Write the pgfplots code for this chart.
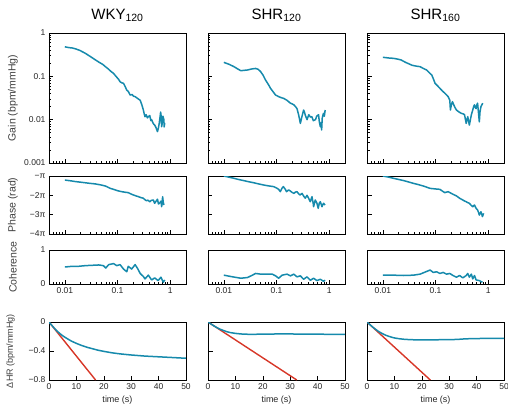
\documentclass[border=0pt]{standalone}
\usepackage{fontspec}
\setmainfont{Liberation Sans}
\usepackage{pgfplots}
\pgfplotsset{compat=1.18}
\definecolor{tl}{RGB}{22,138,172}
\definecolor{rl}{RGB}{215,55,40}
\pgfplotsset{
 panel/.style={scale only axis, width=137pt, axis line style={line width=0.6pt},
   tick align=inside, xtick pos=left, ytick pos=left,
   major tick length=4.5pt, minor tick length=2.5pt,
   every tick/.style={black,line width=0.5pt},
   ticklabel style={font=\fontsize{8.5}{9}\selectfont, text=black!85},
   /pgf/number format/assume math mode=true, anchor=north west,
   ylabel style={font=\fontsize{10.5}{11}\selectfont, text=black!75, at={(axis description cs:-0.263,0.5)}, anchor=center},
   title style={font=\fontsize{15}{17}\selectfont, at={(axis description cs:0.5,1)}, anchor=base, yshift=8pt}},
 freq/.style={panel, xmin=0.005, xmax=2, log ticks with fixed point},
 gainp/.style={freq, height=130pt, ymin=0.001, ymax=1, xticklabels={}},
 phasep/.style={freq, height=58pt, ymin=-4, ymax=-1, ytick={-4,-3,-2,-1}, xticklabels={}},
 cohp/.style={freq, height=34pt, ymin=0, ymax=1, ytick={0,1}},
 dhrp/.style={panel, height=58pt, xmin=0, xmax=50, xtick={0,10,20,30,40,50}, ymin=-0.8, ymax=0, ytick={-0.8,-0.4,0},
   xlabel={time (s)}, xlabel style={font=\fontsize{9}{10}\selectfont, text=black!85}},
 curve/.style={tl, line width=1.5pt, line join=round},
 refl/.style={rl, line width=1.4pt},
}
\begin{document}
\begin{tikzpicture}
\useasboundingbox (0,0) rectangle (508pt,408pt);
% ---------------- Gain row ----------------
\begin{loglogaxis}[gainp, at={(49pt,375pt)}, title={WKY\textsubscript{120}}, ylabel={Gain (bpm/mmHg)}]
\addplot[curve] coordinates {(0.010,0.48)(0.012,0.46)(0.014,0.45)(0.016,0.43)(0.019,0.40)(0.0245,0.34)(0.030,0.29)(0.038,0.24)(0.045,0.21)(0.052,0.19)(0.059,0.167)(0.066,0.15)(0.075,0.13)(0.084,0.117)(0.095,0.098)(0.105,0.085)(0.112,0.075)(0.12,0.071)(0.13,0.069)(0.14,0.058)(0.15,0.048)(0.16,0.045)(0.174,0.037)(0.19,0.038)(0.2,0.035)(0.216,0.034)(0.24,0.031)(0.27,0.028)(0.29,0.022)(0.31,0.0167)(0.32,0.014)(0.333,0.0117)(0.35,0.013)(0.37,0.011)(0.385,0.0117)(0.41,0.0125)(0.43,0.0095)(0.445,0.010)(0.47,0.0085)(0.49,0.0078)(0.51,0.0075)(0.54,0.0065)(0.575,0.0053)(0.6,0.0065)(0.62,0.0082)(0.64,0.011)(0.66,0.015)(0.67,0.013)(0.69,0.0069)(0.71,0.0085)(0.73,0.012)(0.76,0.010)(0.77,0.0068)(0.79,0.0085)};
\end{loglogaxis}
\begin{loglogaxis}[gainp, at={(208pt,375pt)}, title={SHR\textsubscript{120}}, yticklabels={}]
\addplot[curve] coordinates {(0.010,0.21)(0.0125,0.19)(0.0156,0.167)(0.018,0.15)(0.021,0.135)(0.025,0.138)(0.028,0.14)(0.034,0.148)(0.040,0.152)(0.045,0.145)(0.050,0.128)(0.056,0.105)(0.062,0.082)(0.070,0.065)(0.077,0.053)(0.085,0.045)(0.096,0.037)(0.11,0.034)(0.125,0.032)(0.137,0.031)(0.158,0.028)(0.17,0.026)(0.184,0.024)(0.2,0.023)(0.213,0.022)(0.23,0.02)(0.245,0.018)(0.263,0.013)(0.275,0.01)(0.284,0.0082)(0.3,0.011)(0.327,0.0167)(0.34,0.015)(0.35,0.013)(0.38,0.01)(0.41,0.013)(0.44,0.0115)(0.47,0.0117)(0.5,0.0095)(0.55,0.01)(0.58,0.012)(0.63,0.013)(0.65,0.009)(0.68,0.0069)(0.7,0.0085)(0.72,0.0058)(0.74,0.011)(0.78,0.014)(0.81,0.012)(0.84,0.0167)};
\end{loglogaxis}
\begin{loglogaxis}[gainp, at={(367pt,375pt)}, title={SHR\textsubscript{160}}, yticklabels={}]
\addplot[curve] coordinates {(0.010,0.275)(0.013,0.265)(0.016,0.26)(0.019,0.25)(0.022,0.24)(0.027,0.21)(0.031,0.195)(0.036,0.18)(0.043,0.172)(0.051,0.167)(0.06,0.15)(0.068,0.14)(0.077,0.12)(0.085,0.107)(0.092,0.085)(0.098,0.069)(0.11,0.06)(0.121,0.053)(0.135,0.046)(0.15,0.041)(0.174,0.034)(0.187,0.028)(0.192,0.0167)(0.2,0.022)(0.21,0.026)(0.222,0.022)(0.235,0.019)(0.25,0.0167)(0.28,0.015)(0.31,0.014)(0.34,0.0135)(0.356,0.013)(0.383,0.0082)(0.40,0.0105)(0.41,0.0117)(0.43,0.0085)(0.44,0.0075)(0.46,0.01)(0.48,0.013)(0.51,0.0167)(0.53,0.02)(0.55,0.022)(0.57,0.019)(0.59,0.018)(0.61,0.022)(0.63,0.024)(0.65,0.016)(0.68,0.0089)(0.70,0.015)(0.73,0.02)(0.76,0.022)(0.79,0.024)};
\end{loglogaxis}
% ---------------- Phase row ----------------
\begin{semilogxaxis}[phasep, at={(49pt,232pt)}, ylabel={Phase (rad)}, yticklabels={−4π,−3π,−2π,−π}]
\addplot[curve] coordinates {(0.010,-1.21)(0.013,-1.25)(0.016,-1.29)(0.020,-1.32)(0.0245,-1.35)(0.030,-1.38)(0.038,-1.41)(0.048,-1.46)(0.059,-1.52)(0.066,-1.58)(0.073,-1.64)(0.082,-1.68)(0.091,-1.72)(0.10,-1.76)(0.12,-1.81)(0.14,-1.84)(0.16,-1.86)(0.18,-1.93)(0.2,-1.98)(0.22,-2.02)(0.25,-2.07)(0.28,-2.12)(0.31,-2.15)(0.33,-2.22)(0.357,-2.28)(0.38,-2.25)(0.41,-2.33)(0.44,-2.26)(0.48,-2.24)(0.5,-2.38)(0.51,-2.41)(0.54,-2.3)(0.575,-2.2)(0.6,-2.45)(0.64,-2.38)(0.67,-2.3)(0.69,-2.59)(0.72,-2.07)(0.74,-2.35)(0.76,-2.5)};
\end{semilogxaxis}
\begin{semilogxaxis}[phasep, at={(208pt,232pt)}, yticklabels={}]
\addplot[curve] coordinates {(0.010,-1.0)(0.0125,-1.06)(0.0156,-1.12)(0.019,-1.18)(0.024,-1.24)(0.030,-1.3)(0.037,-1.35)(0.046,-1.41)(0.058,-1.47)(0.07,-1.51)(0.089,-1.55)(0.1,-1.62)(0.11,-1.69)(0.118,-1.81)(0.128,-1.62)(0.135,-1.55)(0.148,-1.7)(0.155,-1.81)(0.17,-1.72)(0.18,-1.76)(0.198,-1.85)(0.215,-1.9)(0.229,-1.83)(0.245,-1.81)(0.263,-1.92)(0.28,-1.98)(0.305,-1.9)(0.33,-2.05)(0.352,-2.15)(0.38,-2.0)(0.407,-2.15)(0.438,-2.33)(0.472,-2.07)(0.5,-2.45)(0.506,-2.59)(0.545,-2.24)(0.586,-2.41)(0.62,-2.67)(0.65,-2.4)(0.68,-2.33)(0.73,-2.59)(0.78,-2.41)(0.84,-2.5)};
\end{semilogxaxis}
\begin{semilogxaxis}[phasep, at={(367pt,232pt)}, yticklabels={}]
\addplot[curve] coordinates {(0.010,-1.0)(0.013,-1.06)(0.016,-1.12)(0.020,-1.18)(0.025,-1.24)(0.031,-1.31)(0.038,-1.38)(0.048,-1.45)(0.059,-1.52)(0.079,-1.64)(0.1,-1.67)(0.121,-1.69)(0.135,-1.78)(0.15,-1.86)(0.174,-1.81)(0.2,-1.9)(0.225,-1.97)(0.25,-2.03)(0.287,-2.15)(0.31,-2.2)(0.33,-2.24)(0.36,-2.3)(0.383,-2.33)(0.41,-2.38)(0.44,-2.41)(0.47,-2.5)(0.51,-2.59)(0.55,-2.5)(0.59,-2.67)(0.63,-2.76)(0.66,-2.9)(0.68,-3.02)(0.73,-2.85)(0.78,-3.1)(0.82,-2.93)};
\end{semilogxaxis}
% ---------------- Coherence row ----------------
\begin{semilogxaxis}[cohp, at={(49pt,158pt)}, ylabel={Coherence}]
\addplot[curve] coordinates {(0.010,0.50)(0.0137,0.52)(0.018,0.52)(0.0245,0.54)(0.033,0.55)(0.044,0.56)(0.054,0.54)(0.06,0.47)(0.068,0.57)(0.084,0.6)(0.097,0.54)(0.112,0.57)(0.13,0.44)(0.15,0.36)(0.16,0.52)(0.186,0.44)(0.216,0.57)(0.24,0.46)(0.27,0.31)(0.31,0.22)(0.333,0.15)(0.385,0.26)(0.445,0.12)(0.51,0.18)(0.59,0.1)(0.67,0.2)(0.74,0.05)(0.79,0.12)};
\end{semilogxaxis}
\begin{semilogxaxis}[cohp, at={(208pt,158pt)}, yticklabels={}]
\addplot[curve] coordinates {(0.010,0.26)(0.0136,0.22)(0.021,0.17)(0.028,0.19)(0.035,0.26)(0.040,0.31)(0.050,0.29)(0.067,0.29)(0.083,0.29)(0.096,0.24)(0.11,0.17)(0.128,0.26)(0.159,0.29)(0.184,0.24)(0.213,0.29)(0.245,0.21)(0.284,0.24)(0.327,0.14)(0.38,0.21)(0.44,0.11)(0.506,0.17)(0.586,0.1)(0.68,0.14)(0.78,0.08)(0.84,0.11)};
\end{semilogxaxis}
\begin{semilogxaxis}[cohp, at={(367pt,158pt)}, yticklabels={}]
\addplot[curve] coordinates {(0.010,0.26)(0.016,0.26)(0.025,0.25)(0.038,0.26)(0.051,0.29)(0.068,0.37)(0.079,0.41)(0.091,0.34)(0.105,0.36)(0.121,0.31)(0.14,0.34)(0.162,0.29)(0.187,0.31)(0.215,0.25)(0.25,0.2)(0.287,0.25)(0.33,0.18)(0.383,0.25)(0.41,0.31)(0.44,0.2)(0.48,0.29)(0.51,0.15)(0.55,0.25)(0.59,0.12)(0.68,0.1)(0.78,0.05)};
\end{semilogxaxis}
% ---------------- Delta HR row ----------------
\begin{axis}[dhrp, at={(49pt,86pt)}, ylabel={ΔHR (bpm/mmHg)}, ylabel style={font=\fontsize{9}{10}\selectfont, at={(axis description cs:-0.28,0.5)}}, yticklabels={−0.8,−0.4,0}]
\addplot[refl] coordinates {(0,0)(17,-0.8)};
\addplot[curve] coordinates {(0,0)(1,-0.045)(2,-0.088)(3,-0.127)(4,-0.16)(5,-0.19)(6,-0.215)(8,-0.26)(10,-0.295)(12,-0.325)(14,-0.35)(16,-0.37)(18,-0.39)(20,-0.405)(23,-0.425)(26,-0.44)(30,-0.455)(35,-0.47)(40,-0.48)(45,-0.49)(50,-0.5)};
\end{axis}
\begin{axis}[dhrp, at={(208pt,86pt)}, yticklabels={}]
\addplot[refl] coordinates {(0,0)(32.4,-0.8)};
\addplot[curve] coordinates {(0,0)(1,-0.025)(2,-0.05)(3,-0.072)(4,-0.092)(5,-0.108)(6,-0.122)(7,-0.135)(8,-0.145)(10,-0.157)(12,-0.165)(15,-0.17)(20,-0.168)(25,-0.165)(30,-0.165)(35,-0.167)(40,-0.168)(45,-0.17)(50,-0.172)};
\end{axis}
\begin{axis}[dhrp, at={(367pt,86pt)}, yticklabels={}]
\addplot[refl] coordinates {(0,0)(23.1,-0.8)};
\addplot[curve] coordinates {(0,0)(1,-0.034)(2,-0.067)(3,-0.097)(4,-0.125)(5,-0.148)(6,-0.168)(7,-0.185)(8,-0.198)(9,-0.21)(10,-0.22)(12,-0.232)(14,-0.24)(17,-0.245)(20,-0.246)(25,-0.245)(30,-0.244)(33,-0.24)(36,-0.232)(40,-0.228)(45,-0.226)(50,-0.225)};
\end{axis}
\end{tikzpicture}
\end{document}
